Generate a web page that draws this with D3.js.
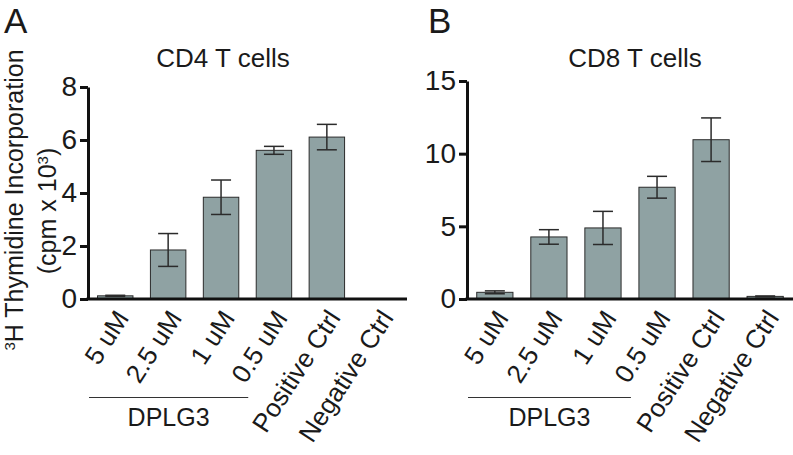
<!DOCTYPE html>
<html><head><meta charset="utf-8">
<script src="https://cdn.jsdelivr.net/npm/d3@7"></script>
<style>
body{margin:0;background:#fff;}
text{font-family:"Liberation Sans",Arial,sans-serif;fill:#1a1a1a;}
</style></head>
<body>
<svg id="c" width="793" height="455"></svg>
<script>
const categories = ["5 uM","2.5 uM","1 uM","0.5 uM","Positive Ctrl","Negative Ctrl"];
const cd4Values = [0.12, 1.85, 3.84, 5.61, 6.11, 0];
const cd4Errors = [0.02, 0.62, 0.65, 0.15, 0.48, 0];
const cd8Values = [0.46, 4.27, 4.89, 7.69, 10.96, 0.18];
const cd8Errors = [0.1, 0.5, 1.14, 0.75, 1.5, 0.03];
const cd4Ticks = [0,2,4,6,8];
const cd8Ticks = [0,5,10,15];
const groupLabel = "DPLG3";

const svg = d3.select("#c");
const fill = "#8fa2a3", dark = "#2b2b2b";

function panel(o){
  const g = svg.append("g");
  const x = d3.scaleBand().domain(categories).range([o.x0, o.x1]).paddingInner(0.33).paddingOuter(0.18);
  const y = d3.scaleLinear().domain([0, o.max]).range([299, o.top]);
  g.selectAll("rect.bar").data(o.values).join("rect")
    .attr("x",(d,i)=>x(categories[i])).attr("width",x.bandwidth())
    .attr("y",d=>y(d)).attr("height",d=>y(0)-y(d))
    .attr("fill",fill).attr("stroke",dark).attr("stroke-width",d=>d>0?1:0);
  const eb = g.selectAll("g.eb").data(o.values.map((v,i)=>({v,e:o.errors[i],c:categories[i]})).filter(d=>d.v>0)).join("g");
  const cx = d=>x(d.c)+x.bandwidth()/2;
  eb.append("line").attr("x1",cx).attr("x2",cx).attr("y1",d=>y(d.v+d.e)).attr("y2",d=>y(d.v-d.e)).attr("stroke",dark).attr("stroke-width",1.5);
  [1,-1].forEach(s=>{
    eb.append("line").attr("x1",d=>cx(d)-10).attr("x2",d=>cx(d)+10)
      .attr("y1",d=>y(d.v+s*d.e)).attr("y2",d=>y(d.v+s*d.e)).attr("stroke",dark).attr("stroke-width",1.5);
  });
  const ya = d3.axisLeft(y).tickValues(o.ticks).tickSize(8).tickPadding(3).tickSizeOuter(0);
  const yg = g.append("g").attr("transform",`translate(${o.x0},0)`).call(ya);
  yg.select(".domain").attr("stroke","#111").attr("stroke-width",3);
  yg.selectAll(".tick line").attr("stroke","#111").attr("stroke-width",3);
  yg.selectAll(".tick text").style("font-size","28px").style("font-family","Liberation Sans, Arial, sans-serif").attr("fill","#1a1a1a");
  const xa = d3.axisBottom(x).tickSize(0).tickSizeOuter(0).tickFormat("");
  const xg = g.append("g").attr("transform","translate(0,299)").call(xa);
  xg.select(".domain").attr("stroke","#111").attr("stroke-width",3).attr("d",`M${o.x0-1.5},0H${o.x1}`);
  g.selectAll("text.cat").data(categories).join("text")
    .attr("text-anchor","end")
    .attr("transform",d=>`translate(${x(d)+x.bandwidth()/2+7},${313}) rotate(-57)`)
    .attr("dy","0.35em")
    .style("font-size","26px").text(d=>d);
  const gx0 = o.x0+1, gx1 = x(categories[3])-8;
  g.append("line").attr("x1",gx0).attr("x2",gx1).attr("y1",397.5).attr("y2",397.5).attr("stroke","#333").attr("stroke-width",1.2);
  g.append("text").attr("x",(gx0+gx1)/2).attr("y",426).attr("text-anchor","middle").style("font-size","25px").text(groupLabel);
  g.append("text").attr("x",o.tx).attr("y",67).attr("text-anchor","middle").style("font-size","26px").text(o.title);
  g.append("text").attr("x",o.lx).attr("y",33).style("font-size","35px").text(o.letter);
  return g;
}

panel({x0:88,x1:407,top:87,max:8,values:cd4Values,errors:cd4Errors,ticks:cd4Ticks,title:"CD4 T cells",tx:223,letter:"A",lx:4});
panel({x0:467,x1:793,top:81,max:15,values:cd8Values,errors:cd8Errors,ticks:cd8Ticks,title:"CD8 T cells",tx:635,letter:"B",lx:428});

const yl = svg.append("text").attr("transform","translate(23,200) rotate(-90)").attr("text-anchor","middle").style("font-size","25px");
yl.append("tspan").attr("baseline-shift","super").style("font-size","15px").text("3");
yl.append("tspan").text("H Thymidine Incorporation");
const yl2 = svg.append("text").attr("transform","translate(56,211) rotate(-90)").attr("text-anchor","middle").style("font-size","25px");
yl2.append("tspan").text("(cpm x 10");
yl2.append("tspan").attr("baseline-shift","super").style("font-size","15px").text("3");
yl2.append("tspan").text(")");
</script>
</body></html>
